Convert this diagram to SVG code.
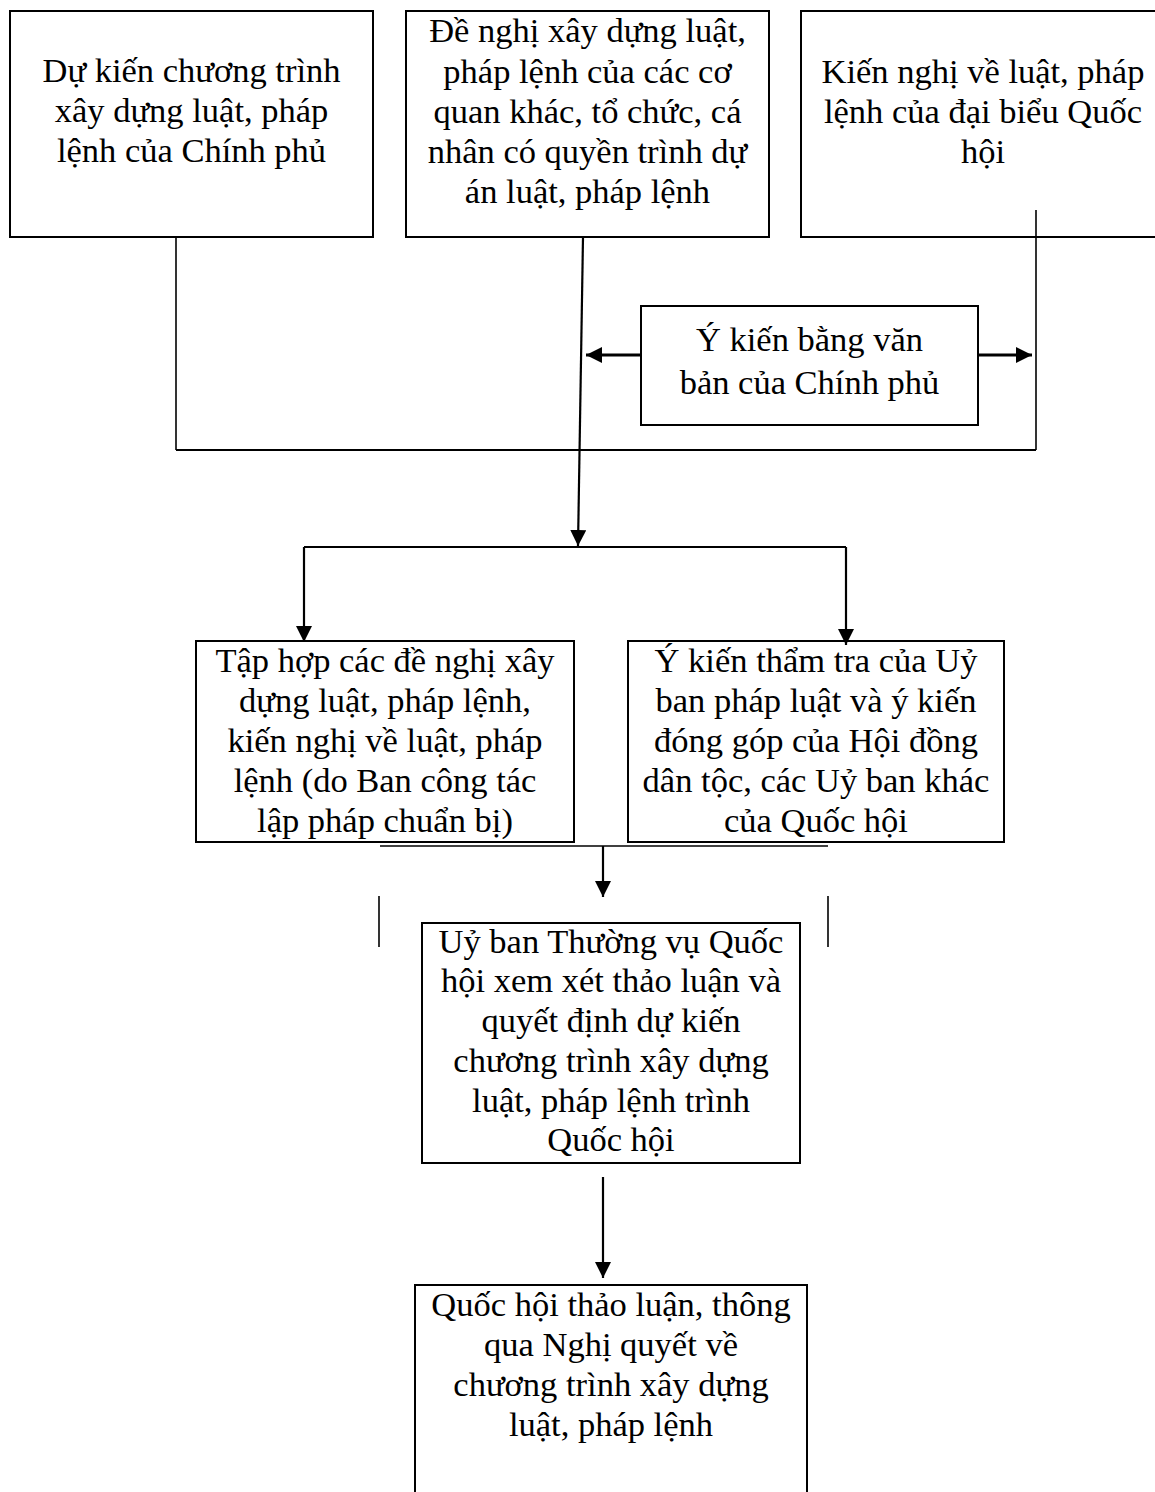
<svg xmlns="http://www.w3.org/2000/svg" width="1155" height="1492" viewBox="0 0 1155 1492">
  <style>
    .box { fill: #fff; stroke: #000; stroke-width: 2; }
    .lbl { font-family: "Liberation Serif", "Times New Roman", serif; font-size: 34.5px; fill: #000; text-anchor: middle; }
    .ln { fill: none; stroke: #000; stroke-width: 1.6; }
    .ar { fill: none; stroke: #000; stroke-width: 2.2; marker-end: url(#head); }
    .arw { stroke-width: 3; }
  </style>
  <defs>
    <marker id="head" viewBox="0 0 16 16" refX="16" refY="8" markerWidth="16" markerHeight="16" markerUnits="userSpaceOnUse" orient="auto">
      <path d="M0,0 L16,8 L0,16 z" fill="#000"/>
    </marker>
  </defs>
  <rect width="1155" height="1492" fill="#fff"/>

  <g id="gov-plan">
    <rect class="box" x="10" y="11" width="363" height="226"/>
    <text class="lbl" x="191.5" y="82">Dự kiến chương trình</text>
    <text class="lbl" x="191.5" y="122">xây dựng luật, pháp</text>
    <text class="lbl" x="191.5" y="162">lệnh của Chính phủ</text>
  </g>

  <g id="other-proposals">
    <rect class="box" x="406" y="11" width="363" height="226"/>
    <text class="lbl" x="587.5" y="42">Đề nghị xây dựng luật,</text>
    <text class="lbl" x="587.5" y="83">pháp lệnh của các cơ</text>
    <text class="lbl" x="587.5" y="123">quan khác, tổ chức, cá</text>
    <text class="lbl" x="587.5" y="163">nhân có quyền trình dự</text>
    <text class="lbl" x="587.5" y="203">án luật, pháp lệnh</text>
  </g>

  <g id="deputy-proposals">
    <rect class="box" x="801" y="11" width="364" height="226"/>
    <text class="lbl" x="983" y="83">Kiến nghị về luật, pháp</text>
    <text class="lbl" x="983" y="123">lệnh của đại biểu Quốc</text>
    <text class="lbl" x="983" y="163">hội</text>
  </g>

  <g id="gov-opinion">
    <rect class="box" x="641" y="306" width="337" height="119"/>
    <text class="lbl" x="809.5" y="351">Ý kiến bằng văn</text>
    <text class="lbl" x="809.5" y="394">bản của Chính phủ</text>
  </g>

  <g id="compilation">
    <rect class="box" x="196" y="641" width="378" height="201"/>
    <text class="lbl" x="385" y="672">Tập hợp các đề nghị xây</text>
    <text class="lbl" x="385" y="712">dựng luật, pháp lệnh,</text>
    <text class="lbl" x="385" y="752">kiến nghị về luật, pháp</text>
    <text class="lbl" x="385" y="792">lệnh (do Ban công tác</text>
    <text class="lbl" x="385" y="832">lập pháp chuẩn bị)</text>
  </g>

  <g id="review">
    <rect class="box" x="628" y="641" width="376" height="201"/>
    <text class="lbl" x="816" y="672">Ý kiến thẩm tra của Uỷ</text>
    <text class="lbl" x="816" y="712">ban pháp luật và ý kiến</text>
    <text class="lbl" x="816" y="752">đóng góp của Hội đồng</text>
    <text class="lbl" x="816" y="792">dân tộc, các Uỷ ban khác</text>
    <text class="lbl" x="816" y="832">của Quốc hội</text>
  </g>

  <g id="standing-committee">
    <rect class="box" x="422" y="923" width="378" height="240"/>
    <text class="lbl" x="611" y="953">Uỷ ban Thường vụ Quốc</text>
    <text class="lbl" x="611" y="992">hội xem xét thảo luận và</text>
    <text class="lbl" x="611" y="1032">quyết định dự kiến</text>
    <text class="lbl" x="611" y="1072">chương trình xây dựng</text>
    <text class="lbl" x="611" y="1112">luật, pháp lệnh trình</text>
    <text class="lbl" x="611" y="1151">Quốc hội</text>
  </g>

  <g id="national-assembly">
    <rect class="box" x="415" y="1285" width="392" height="230"/>
    <text class="lbl" x="611" y="1316">Quốc hội thảo luận, thông</text>
    <text class="lbl" x="611" y="1356">qua Nghị quyết về</text>
    <text class="lbl" x="611" y="1396">chương trình xây dựng</text>
    <text class="lbl" x="611" y="1436">luật, pháp lệnh</text>
  </g>

  <g id="connectors">
    <path class="ln" d="M176,237 V450"/>
    <path class="ln" d="M176,450 H1036" style="stroke-width:2"/>
    <path class="ln" d="M1036,210 V450"/>
    <path class="ar" d="M583,237 L578,546"/>
    <path class="ar arw" d="M641,355 H586"/>
    <path class="ar arw" d="M978,355 H1032"/>
    <path class="ln" d="M304,547 H846" style="stroke-width:2.2"/>
    <path class="ar" d="M304,547 V642"/>
    <path class="ar" d="M846,547 V645"/>
    <path class="ln" d="M380,846 H828"/>
    <path class="ar" d="M603,846 V897"/>
    <path class="ln" d="M379,896 V947"/>
    <path class="ln" d="M828,896 V947"/>
    <path class="ar" d="M603,1177 V1278"/>
  </g>
</svg>
